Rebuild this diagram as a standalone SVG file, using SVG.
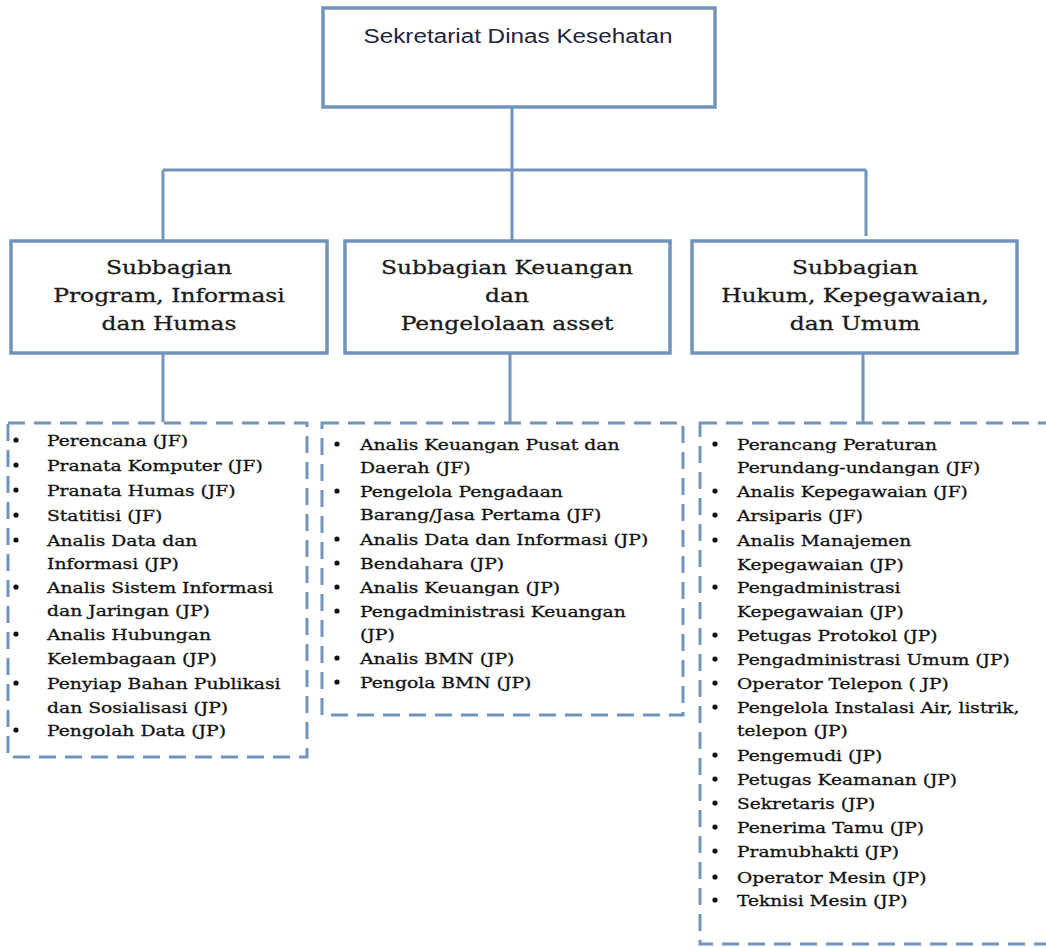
<svg xmlns="http://www.w3.org/2000/svg" width="1046" height="947" viewBox="0 0 1046 947">
<style>
.box{fill:#fff;stroke:#7094bc;stroke-width:3.5}
.dash{fill:none;stroke:#7094bc;stroke-width:3;stroke-dasharray:17 9}
.conn{fill:none;stroke:#7094bc;stroke-width:3}
.title{font-family:"Liberation Sans",Arial,sans-serif;font-size:20px;fill:#23233a}
.head{font-family:"DejaVu Serif",serif;font-size:19px;fill:#1a1a1a;stroke:#1a1a1a;stroke-width:0.3;text-anchor:middle}
.item{font-family:"DejaVu Serif",serif;font-size:15.5px;fill:#111;stroke:#111;stroke-width:0.3}
.bul{fill:#111}
</style>
<rect width="1046" height="947" fill="#fff"/>
<g id="connectors">
<path class="conn" d="M512 108V170M163 170H866M163 170V240M512 170V240M866 170V236"/>
<path class="conn" d="M163 353V422M510 353V422M863 353V422"/>
</g>
<g id="sekretariat">
<rect class="box" x="323" y="8" width="392" height="99"/>
<text class="title" x="518" y="43" text-anchor="middle" textLength="309" lengthAdjust="spacingAndGlyphs">Sekretariat Dinas Kesehatan</text>
</g>
<g id="subbag-program">
<rect class="box" x="11" y="241" width="316" height="112"/>
<g transform="translate(169 0) scale(1.23 1)">
<text class="head" x="0" y="274">Subbagian</text>
<text class="head" x="0" y="302">Program, Informasi</text>
<text class="head" x="0" y="330">dan Humas</text>
</g>
</g>
<g id="subbag-keuangan">
<rect class="box" x="345" y="241" width="325" height="112"/>
<g transform="translate(507 0) scale(1.23 1)">
<text class="head" x="0" y="274">Subbagian Keuangan</text>
<text class="head" x="0" y="302">dan</text>
<text class="head" x="0" y="330">Pengelolaan asset</text>
</g>
</g>
<g id="subbag-hukum">
<rect class="box" x="692" y="241" width="325" height="112"/>
<g transform="translate(855 0) scale(1.23 1)">
<text class="head" x="0" y="274">Subbagian</text>
<text class="head" x="0" y="302">Hukum, Kepegawaian,</text>
<text class="head" x="0" y="330">dan Umum</text>
</g>
</g>
<g id="list-program">
<rect class="dash" x="8" y="423" width="299" height="334"/>
<g class="bul">
<circle cx="16" cy="440" r="2.6"/><circle cx="16" cy="465" r="2.6"/><circle cx="16" cy="490" r="2.6"/><circle cx="16" cy="515" r="2.6"/><circle cx="16" cy="540" r="2.6"/><circle cx="16" cy="587" r="2.6"/><circle cx="16" cy="634" r="2.6"/><circle cx="16" cy="683" r="2.6"/><circle cx="16" cy="730" r="2.6"/>
</g>
<g transform="translate(47 0) scale(1.21 1)">
<text class="item" x="0" y="446">Perencana (JF)</text>
<text class="item" x="0" y="471">Pranata Komputer (JF)</text>
<text class="item" x="0" y="496">Pranata Humas (JF)</text>
<text class="item" x="0" y="521">Statitisi (JF)</text>
<text class="item" x="0" y="546">Analis Data dan</text>
<text class="item" x="0" y="569">Informasi (JP)</text>
<text class="item" x="0" y="593">Analis Sistem Informasi</text>
<text class="item" x="0" y="616">dan Jaringan (JP)</text>
<text class="item" x="0" y="640">Analis Hubungan</text>
<text class="item" x="0" y="664">Kelembagaan (JP)</text>
<text class="item" x="0" y="689">Penyiap Bahan Publikasi</text>
<text class="item" x="0" y="713">dan Sosialisasi (JP)</text>
<text class="item" x="0" y="736">Pengolah Data (JP)</text>
</g>
</g>
<g id="list-keuangan">
<rect class="dash" x="322" y="423" width="361" height="292"/>
<g class="bul">
<circle cx="337" cy="444" r="2.6"/><circle cx="337" cy="491" r="2.6"/><circle cx="337" cy="539" r="2.6"/><circle cx="337" cy="563" r="2.6"/><circle cx="337" cy="587" r="2.6"/><circle cx="337" cy="611" r="2.6"/><circle cx="337" cy="658" r="2.6"/><circle cx="337" cy="682" r="2.6"/>
</g>
<g transform="translate(360 0) scale(1.21 1)">
<text class="item" x="0" y="450">Analis Keuangan Pusat dan</text>
<text class="item" x="0" y="473">Daerah (JF)</text>
<text class="item" x="0" y="497">Pengelola Pengadaan</text>
<text class="item" x="0" y="520">Barang/Jasa Pertama (JF)</text>
<text class="item" x="0" y="545">Analis Data dan Informasi (JP)</text>
<text class="item" x="0" y="569">Bendahara (JP)</text>
<text class="item" x="0" y="593">Analis Keuangan (JP)</text>
<text class="item" x="0" y="617">Pengadministrasi Keuangan</text>
<text class="item" x="0" y="640">(JP)</text>
<text class="item" x="0" y="664">Analis BMN (JP)</text>
<text class="item" x="0" y="688">Pengola BMN (JP)</text>
</g>
</g>
<g id="list-hukum">
<rect class="dash" x="700" y="423" width="370" height="521"/>
<g class="bul">
<circle cx="715" cy="444" r="2.6"/><circle cx="715" cy="491" r="2.6"/><circle cx="715" cy="515" r="2.6"/><circle cx="715" cy="540" r="2.6"/><circle cx="715" cy="587" r="2.6"/><circle cx="715" cy="635" r="2.6"/><circle cx="715" cy="659" r="2.6"/><circle cx="715" cy="683" r="2.6"/><circle cx="715" cy="707" r="2.6"/><circle cx="715" cy="755" r="2.6"/><circle cx="715" cy="779" r="2.6"/><circle cx="715" cy="803" r="2.6"/><circle cx="715" cy="827" r="2.6"/><circle cx="715" cy="851" r="2.6"/><circle cx="715" cy="877" r="2.6"/><circle cx="715" cy="900" r="2.6"/>
</g>
<g transform="translate(737 0) scale(1.2 1)">
<text class="item" x="0" y="450">Perancang Peraturan</text>
<text class="item" x="0" y="473">Perundang-undangan (JF)</text>
<text class="item" x="0" y="497">Analis Kepegawaian (JF)</text>
<text class="item" x="0" y="521">Arsiparis (JF)</text>
<text class="item" x="0" y="546">Analis Manajemen</text>
<text class="item" x="0" y="570">Kepegawaian (JP)</text>
<text class="item" x="0" y="593">Pengadministrasi</text>
<text class="item" x="0" y="617">Kepegawaian (JP)</text>
<text class="item" x="0" y="641">Petugas Protokol (JP)</text>
<text class="item" x="0" y="665">Pengadministrasi Umum (JP)</text>
<text class="item" x="0" y="689">Operator Telepon ( JP)</text>
<text class="item" x="0" y="713">Pengelola Instalasi Air, listrik,</text>
<text class="item" x="0" y="736">telepon (JP)</text>
<text class="item" x="0" y="761">Pengemudi (JP)</text>
<text class="item" x="0" y="785">Petugas Keamanan (JP)</text>
<text class="item" x="0" y="809">Sekretaris (JP)</text>
<text class="item" x="0" y="833">Penerima Tamu (JP)</text>
<text class="item" x="0" y="857">Pramubhakti (JP)</text>
<text class="item" x="0" y="883">Operator Mesin (JP)</text>
<text class="item" x="0" y="906">Teknisi Mesin (JP)</text>
</g>
</g>
</svg>
